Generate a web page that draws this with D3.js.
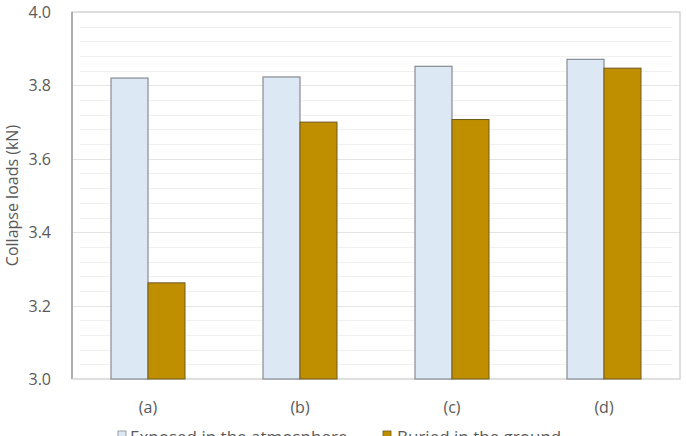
<!DOCTYPE html>
<html>
<head>
<meta charset="utf-8">
<script src="https://cdn.jsdelivr.net/npm/d3@7"></script>
<style>
  body { margin: 0; background: #fff; }
  #chart { width: 686px; height: 436px; overflow: hidden; }
  text { font-family: "Open Sans", "Liberation Sans", sans-serif; }
</style>
</head>
<body>
<div id="chart"></div>
<script>
const categories = ["(a)", "(b)", "(c)", "(d)"];
const seriesNames = ["Exposed in the atmosphere", "Buried in the ground"];
const exposed = [3.82, 3.823, 3.852, 3.871];
const buried = [3.262, 3.70, 3.707, 3.847];
const yTicks = [3.0, 3.2, 3.4, 3.6, 3.8, 4.0];
const minorTicks = d3.range(3.04, 4.0, 0.04);

const width = 686, height = 436;
const margin = { top: 12, right: 6, bottom: 57, left: 72 };

const svg = d3.select("#chart")
  .append("svg")
  .attr("width", width)
  .attr("height", height);

const x = d3.scaleBand()
  .domain(categories)
  .range([margin.left, width - margin.right])
  .paddingInner(0)
  .paddingOuter(0);

const y = d3.scaleLinear()
  .domain([3.0, 4.0])
  .range([height - margin.bottom, margin.top]);

const groupW = 74;
const xs = d3.scaleBand()
  .domain(seriesNames)
  .range([0, groupW]);

// minor gridlines
svg.append("g")
  .selectAll("line")
  .data(minorTicks.filter(t => Math.abs((t * 5) - Math.round(t * 5)) > 1e-6))
  .enter().append("line")
  .attr("x1", margin.left + 8)
  .attr("x2", width - margin.right - 8)
  .attr("y1", d => Math.round(y(d)) + 0.5)
  .attr("y2", d => Math.round(y(d)) + 0.5)
  .attr("stroke", "#f0f0f0")
  .attr("stroke-width", 1);

// major gridlines
svg.append("g")
  .selectAll("line")
  .data(yTicks.slice(1, -1))
  .enter().append("line")
  .attr("x1", margin.left)
  .attr("x2", width - margin.right)
  .attr("y1", d => Math.round(y(d)) + 0.5)
  .attr("y2", d => Math.round(y(d)) + 0.5)
  .attr("stroke", "#e4e4e4")
  .attr("stroke-width", 1);

// frame
svg.append("rect")
  .attr("x", margin.left)
  .attr("y", margin.top)
  .attr("width", width - margin.left - margin.right)
  .attr("height", y(3.0) - margin.top)
  .attr("fill", "none")
  .attr("stroke", "#c8c8c8")
  .attr("stroke-width", 1.2);

svg.append("line")
  .attr("x1", margin.left).attr("x2", margin.left)
  .attr("y1", margin.top).attr("y2", y(3.0))
  .attr("stroke", "#8f8f8f")
  .attr("stroke-width", 1.2);

svg.append("line")
  .attr("x1", margin.left).attr("x2", width - margin.right)
  .attr("y1", y(3.0)).attr("y2", y(3.0))
  .attr("stroke", "#e0e0e0")
  .attr("stroke-width", 1);

// bars
const groups = svg.append("g")
  .selectAll("g")
  .data(categories)
  .enter().append("g")
  .attr("transform", d => `translate(${x(d) + x.bandwidth() / 2 - groupW / 2},0)`);

groups.append("rect")
  .attr("x", xs(seriesNames[0]))
  .attr("width", xs.bandwidth())
  .attr("y", (d, i) => y(exposed[i]))
  .attr("height", (d, i) => y(3.0) - y(exposed[i]))
  .attr("fill", "#dde8f5")
  .attr("stroke", "#868b92")
  .attr("stroke-width", 1.2);

groups.append("rect")
  .attr("x", xs(seriesNames[1]))
  .attr("width", xs.bandwidth())
  .attr("y", (d, i) => y(buried[i]))
  .attr("height", (d, i) => y(3.0) - y(buried[i]))
  .attr("fill", "#bf8f00")
  .attr("stroke", "#6e5a1e")
  .attr("stroke-width", 1);

// y tick labels
svg.append("g")
  .selectAll("text")
  .data(yTicks)
  .enter().append("text")
  .attr("x", 51)
  .attr("y", d => y(d) + 6)
  .attr("text-anchor", "end")
  .attr("font-size", "16px")
  .attr("fill", "#595959")
  .text(d => d.toFixed(1));

// x labels
svg.append("g")
  .selectAll("text")
  .data(categories)
  .enter().append("text")
  .attr("x", d => x(d) + x.bandwidth() / 2)
  .attr("y", 413)
  .attr("text-anchor", "middle")
  .attr("font-size", "16px")
  .attr("fill", "#595959")
  .text(d => d);

// y axis title
svg.append("text")
  .attr("transform", `translate(18,${(margin.top + y(3.0)) / 2}) rotate(-90)`)
  .attr("text-anchor", "middle")
  .attr("font-size", "16px")
  .attr("fill", "#595959")
  .text("Collapse loads (kN)");

// legend
const legendX = [118, 383];
const legendFill = ["#dde8f5", "#bf8f00"];
const legendStroke = ["#868b92", "#6e5a1e"];
const legend = svg.append("g")
  .selectAll("g")
  .data(seriesNames)
  .enter().append("g")
  .attr("transform", (d, i) => `translate(${legendX[i]},0)`);

legend.append("rect")
  .attr("x", 0)
  .attr("y", 431)
  .attr("width", 8)
  .attr("height", 8)
  .attr("fill", (d, i) => legendFill[i])
  .attr("stroke", (d, i) => legendStroke[i])
  .attr("stroke-width", 0.8);

legend.append("text")
  .attr("x", (d, i) => i === 0 ? 12 : 14)
  .attr("y", 443)
  .attr("font-size", "17px")
  .attr("fill", "#595959")
  .text(d => d);
</script>
</body>
</html>
